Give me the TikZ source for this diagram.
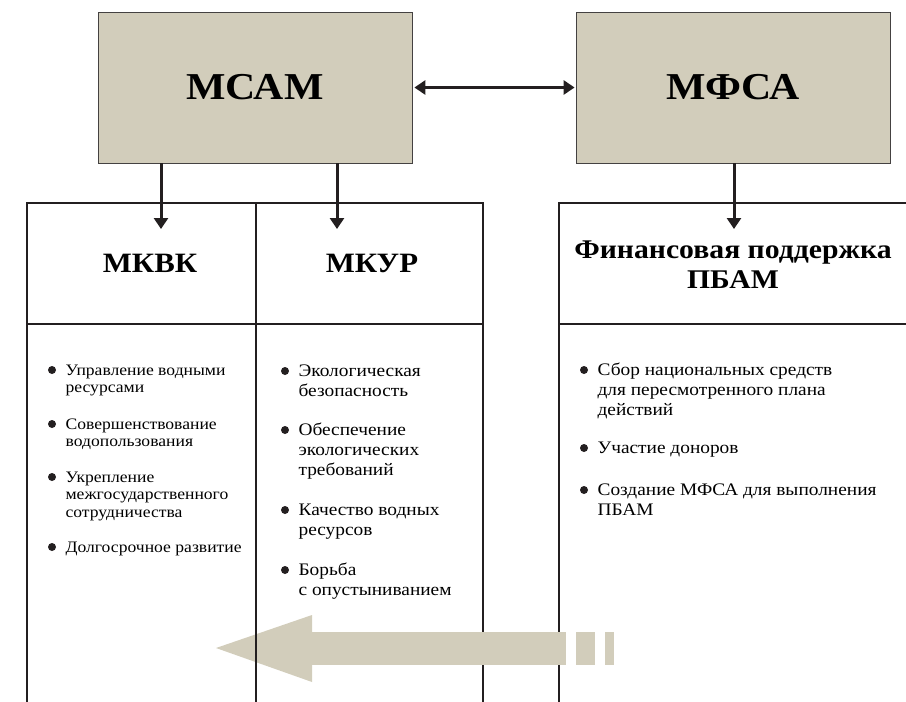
\documentclass[tikz,border=0pt]{standalone}
\usepackage{fontspec}
\setmainfont[FakeStretch=1.1]{Liberation Serif}
\usetikzlibrary{arrows.meta,positioning}
\definecolor{sand}{RGB}{210,205,187}
\definecolor{ink}{RGB}{35,31,32}

\newcommand{\punkt}[4][item]{%
    \node[#1] (#2) at (#3) {\begin{tabular}[t]{@{}l@{}}#4\end{tabular}};
    \fill[ink] ([xshift=-13pt,yshift=5pt]#2.base west) circle (4pt);}

\begin{document}
\begin{tikzpicture}[x=1pt,y=-1pt,line width=1.2pt]
    \tikzstyle{org}=[rectangle, draw=ink!85, line width=0.8pt, fill=sand, minimum width=314pt, minimum height=151pt, font=\fontsize{38}{40}\selectfont\bfseries]
    \tikzstyle{head}=[align=center, font=\fontsize{28}{30}\selectfont\bfseries]
    \tikzstyle{item}=[anchor=base west, inner sep=0pt, font=\fontsize{16}{17.8}\selectfont]
    \tikzstyle{bigitem}=[item, font=\fontsize{17.6}{20}\selectfont]
    \tikzstyle{link}=[draw=ink, line width=3pt, -{Triangle[length=11pt,width=14pt]}]

    \useasboundingbox (0,0) rectangle (906,702);

    \node[org] (mcam) at (255,87.5) {МСАМ};
    \node[org] (mfsa) at (733,87.5) {МФСА};

    % arrow head under the grid
    \fill[sand] (216,648) -- (312,615) -- (312,682) -- cycle;

    \draw[ink] (27,702) -- (27,203) -- (483,203) -- (483,702);
    \draw[ink] (256,203) -- (256,702);
    \draw[ink] (27,324) -- (483,324);
    \draw[ink] (906,203) -- (559,203) -- (559,702);
    \draw[ink] (559,324) -- (906,324);

    % shaft and broken tail
    \fill[sand] (311,632) rectangle (566,665);
    \fill[sand] (576,632) rectangle (595,665);
    \fill[sand] (605,632) rectangle (614,665);

    \node[head] (mkvk) at (150,263) {МКВК};
    \node[head] (mkur) at (372,263) {МКУР};
    \node[head, font=\fontsize{27}{30}\selectfont\bfseries] (fin) at (733,265) {Финансовая поддержка\\ПБАМ};

    \coordinate (kvkin) at (161,229);
    \coordinate (kurin) at (337,229);
    \coordinate (finin) at (734,229);
    \draw[link] (mcam.south -| kvkin) -- (kvkin);
    \draw[link] (mcam.south -| kurin) -- (kurin);
    \draw[link] (mfsa.south -| finin) -- (finin);
    \draw[link, {Triangle[length=11pt,width=14pt]}-{Triangle[length=11pt,width=14pt]}, shorten <=2pt, shorten >=1pt] (mcam.east) -- (mfsa.west);

    \punkt{kvka}{65,375}{Управление водными\\ресурсами}
    \punkt{kvkb}{65,429}{Совершенствование\\водопользования}
    \punkt{kvkc}{65,482}{Укрепление\\межгосударственного\\сотрудничества}
    \punkt{kvkd}{65,552}{Долгосрочное развитие}

    \punkt[bigitem]{kura}{298,376}{Экологическая\\безопасность}
    \punkt[bigitem]{kurb}{298,435}{Обеспечение\\экологических\\требований}
    \punkt[bigitem]{kurc}{298,515}{Качество водных\\ресурсов}
    \punkt[bigitem]{kurd}{298,575}{Борьба\\с опустыниванием}

    \punkt[bigitem]{fina}{597,375}{Сбор национальных средств\\для пересмотренного плана\\действий}
    \punkt[bigitem]{finb}{597,453}{Участие доноров}
    \punkt[bigitem]{finc}{597,495}{Создание МФСА для выполнения\\ПБАМ}
\end{tikzpicture}
\end{document}
